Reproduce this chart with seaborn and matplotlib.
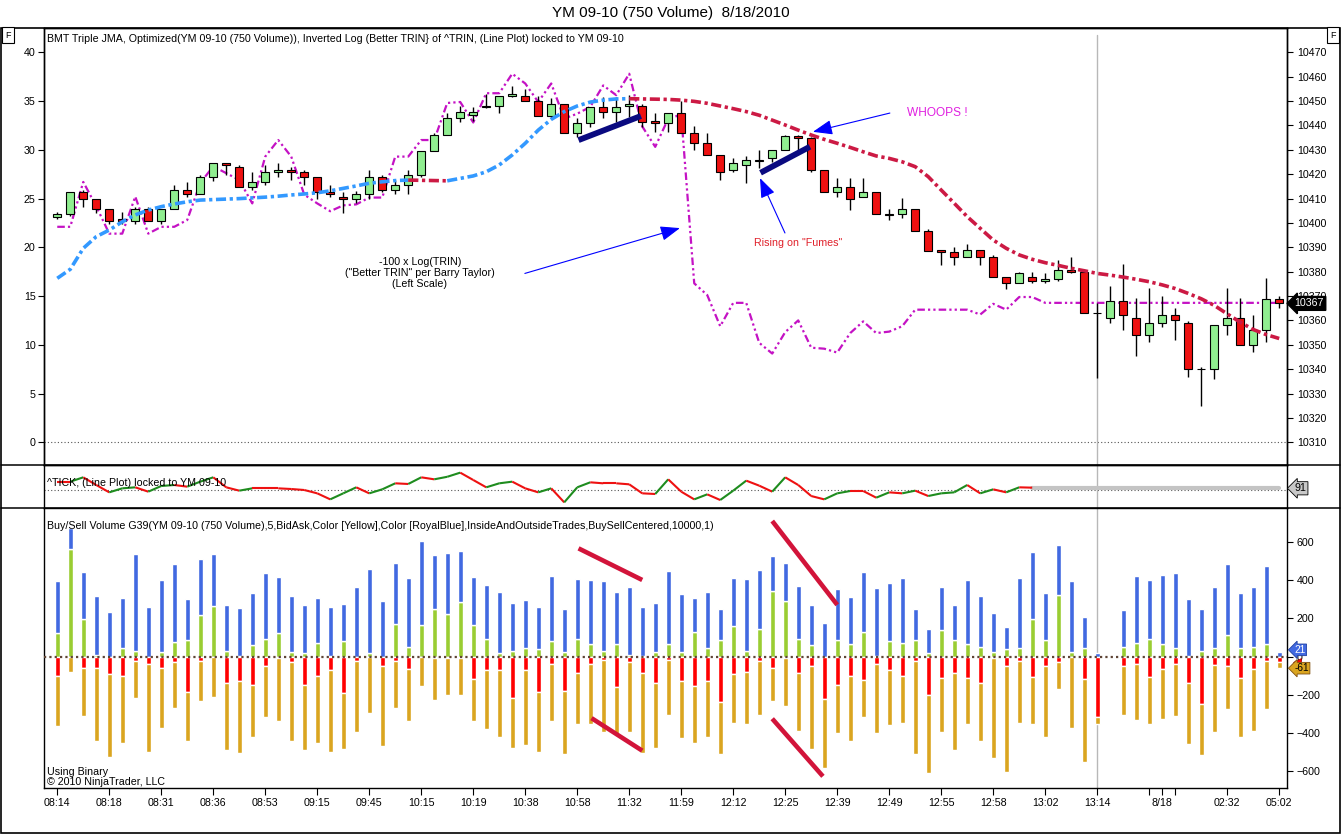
import numpy as np
import matplotlib
matplotlib.use("Agg")
import matplotlib.pyplot as plt
import seaborn as sns
from matplotlib.collections import LineCollection
from matplotlib.lines import Line2D
from matplotlib.patches import Rectangle
from matplotlib.transforms import blended_transform_factory

# ------------------------------------------------------------------ data
XTICK_POS = [0, 4, 8, 12, 16, 20, 24, 28, 32, 36, 40, 44, 48, 52, 56, 60, 64, 68, 72, 76, 80, 84, 85, 86, 90, 94]
XTICK_LABELS = ['08:14', '08:18', '08:31', '08:36', '08:53', '09:15', '09:45', '10:15', '10:19', '10:38',
                '10:58', '11:32', '11:59', '12:12', '12:25', '12:39', '12:49', '12:55', '12:58', '13:02',
                '13:14', '', '8/18', '', '02:32', '05:02']

OPEN = [10402.3, 10403.5, 10412.6, 10409.7, 10405.6, 10401.5, 10400.7, 10405.6, 10400.7, 10405.6,
        10413.4, 10411.7, 10418.7, 10424.5, 10422.8, 10414.6, 10416.7, 10420.8, 10421.6, 10420.8,
        10418.7, 10412.6, 10410.5, 10409.7, 10411.7, 10418.7, 10413.4, 10415.4, 10419.5, 10429.6,
        10436.1, 10442.9, 10444.5, 10447.7, 10448.0, 10452.2, 10452.1, 10450.0, 10443.9, 10448.7,
        10436.8, 10440.9, 10447.7, 10445.7, 10447.9, 10448.0, 10442.0, 10440.9, 10445.0, 10436.8,
        10432.7, 10427.9, 10421.7, 10423.8, 10425.4, 10426.5, 10429.9, 10435.7, 10434.7, 10421.7,
        10412.6, 10414.6, 10410.8, 10412.6, 10403.6, 10403.5, 10405.6, 10396.6, 10389.0, 10388.2,
        10386.2, 10389.0, 10386.2, 10378.0, 10375.2, 10378.0, 10376.0, 10377.2, 10380.9, 10380.0,
        10363.0, 10360.9, 10368.1, 10360.9, 10353.9, 10358.8, 10362.1, 10358.8, 10340.0, 10339.9,
        10358.0, 10360.9, 10349.9, 10356.0, 10369.0]
HIGH = [10404.4, 10412.8, 10413.5, 10409.9, 10405.6, 10404.5, 10406.4, 10406.4, 10405.6, 10415.4,
        10416.9, 10419.5, 10424.5, 10424.5, 10423.6, 10420.8, 10423.6, 10424.5, 10422.8, 10421.6,
        10418.7, 10415.4, 10412.6, 10413.0, 10421.6, 10419.5, 10417.5, 10421.6, 10429.6, 10436.9,
        10445.0, 10448.0, 10447.5, 10453.0, 10452.1, 10456.2, 10454.8, 10452.1, 10451.1, 10448.7,
        10442.9, 10447.7, 10451.8, 10451.8, 10452.5, 10449.0, 10445.0, 10445.0, 10450.2, 10439.8,
        10436.8, 10427.9, 10426.8, 10427.5, 10429.9, 10429.9, 10436.1, 10436.1, 10435.4, 10421.7,
        10418.3, 10418.3, 10418.3, 10412.6, 10405.8, 10410.4, 10405.6, 10397.4, 10389.0, 10390.3,
        10391.2, 10389.0, 10386.9, 10378.0, 10380.0, 10380.0, 10379.3, 10385.0, 10386.2, 10380.7,
        10367.1, 10374.0, 10383.1, 10369.2, 10373.3, 10369.9, 10365.1, 10359.9, 10340.9, 10358.0,
        10373.3, 10369.2, 10362.1, 10377.3, 10369.9]
LOW = [10401.5, 10403.0, 10406.4, 10404.2, 10399.6, 10399.6, 10399.6, 10400.7, 10399.6, 10405.6,
       10410.5, 10411.7, 10417.4, 10419.5, 10414.6, 10413.4, 10415.4, 10418.7, 10417.5, 10415.4,
       10409.7, 10410.5, 10404.2, 10408.0, 10409.7, 10412.6, 10411.7, 10411.7, 10418.7, 10429.6,
       10436.0, 10441.6, 10442.0, 10447.0, 10445.0, 10451.8, 10450.0, 10443.9, 10442.9, 10436.8,
       10435.4, 10439.5, 10442.9, 10441.6, 10443.6, 10439.5, 10437.5, 10437.5, 10436.8, 10429.9,
       10427.9, 10417.6, 10421.0, 10416.6, 10422.4, 10425.0, 10429.9, 10429.9, 10421.0, 10412.6,
       10410.8, 10405.3, 10410.8, 10403.5, 10401.3, 10402.2, 10396.6, 10388.4, 10382.8, 10382.8,
       10386.2, 10382.8, 10378.0, 10373.0, 10375.2, 10375.2, 10375.2, 10376.0, 10379.3, 10362.9,
       10336.5, 10358.8, 10356.1, 10345.6, 10351.0, 10357.2, 10351.9, 10336.8, 10325.0, 10335.8,
       10353.9, 10349.9, 10346.9, 10351.0, 10365.1]
CLOSE = [10403.5, 10412.6, 10409.7, 10405.6, 10400.7, 10400.7, 10405.6, 10400.7, 10405.6, 10413.4,
         10411.7, 10418.7, 10424.5, 10423.6, 10414.6, 10416.7, 10420.8, 10421.6, 10420.8, 10418.7,
         10412.6, 10411.7, 10409.7, 10411.7, 10418.7, 10413.4, 10415.4, 10419.5, 10429.6, 10436.1,
         10442.9, 10445.7, 10445.5, 10448.0, 10452.1, 10452.8, 10450.0, 10443.9, 10448.7, 10436.8,
         10440.9, 10447.7, 10445.7, 10447.7, 10448.8, 10441.6, 10441.1, 10445.0, 10436.8, 10432.7,
         10427.9, 10420.8, 10424.5, 10425.9, 10426.0, 10429.9, 10435.7, 10434.7, 10421.7, 10412.6,
         10414.6, 10409.7, 10412.6, 10403.5, 10403.4, 10405.6, 10396.6, 10388.4, 10388.2, 10386.2,
         10389.0, 10386.2, 10378.0, 10375.2, 10379.3, 10376.0, 10377.2, 10380.9, 10380.0, 10362.9,
         10362.9, 10368.1, 10362.1, 10353.9, 10358.8, 10362.1, 10360.1, 10339.9, 10339.9, 10358.0,
         10360.9, 10349.9, 10356.0, 10369.0, 10367.0]

# BMT Triple JMA (right / price scale)
JMA = [10377.3, 10381.0, 10389.6, 10394.4, 10397.1, 10400.5, 10403.3, 10405.3, 10406.7, 10407.8,
       10408.7, 10409.4, 10409.6, 10409.8, 10410.0, 10410.3, 10410.6, 10411.0, 10411.5, 10411.9,
       10412.4, 10413.2, 10414.2, 10415.2, 10416.3, 10416.9, 10417.4, 10417.6, 10417.5, 10417.4,
       10417.3, 10418.3, 10419.3, 10421.0, 10423.8, 10427.9, 10432.7, 10438.1, 10442.5, 10445.7,
       10448.0, 10449.6, 10450.4, 10450.9, 10451.0, 10450.9, 10450.8, 10450.7, 10450.4, 10449.9,
       10449.1, 10448.0, 10446.9, 10445.7, 10444.2, 10442.2, 10440.2, 10438.1, 10436.1, 10434.3,
       10432.7, 10431.0, 10429.2, 10427.5, 10426.5, 10425.1, 10423.1, 10419.0, 10413.5, 10408.1,
       10402.6, 10397.8, 10393.0, 10389.6, 10386.9, 10385.1, 10383.7, 10382.6, 10381.4, 10380.4,
       10379.3, 10378.6, 10377.8, 10376.9, 10375.9, 10374.6, 10373.1, 10371.1, 10368.9, 10366.2,
       10362.7, 10359.3, 10356.3, 10354.2, 10352.6]

# -100 x Log(TRIN) (left scale)
TRIN = [22.1, 22.1, 26.7, 24.2, 21.4, 21.4, 25.2, 21.4, 22.1, 22.1,
        22.8, 26.6, 28.3, 27.6, 26.9, 24.5, 29.3, 31.0, 29.3, 25.4,
        24.5, 23.7, 24.3, 24.4, 25.1, 25.1, 29.3, 29.3, 31.0, 31.0,
        34.8, 34.9, 32.8, 35.8, 35.8, 37.8, 36.8, 34.9, 36.8, 33.2,
        33.7, 34.4, 36.6, 35.6, 37.8, 32.4, 30.3, 33.2, 33.6, 16.3,
        15.1, 11.9, 14.3, 14.3, 10.2, 9.1, 11.3, 12.5, 9.7, 9.6,
        9.2, 11.2, 12.4, 11.2, 11.35, 11.9, 13.6, 13.6, 13.6, 13.6,
        13.6, 13.1, 14.2, 13.6, 14.9, 14.9, 14.3, 14.3, 14.3, 14.3,
        14.3, 14.3, 14.3, 14.3, 14.3, 14.3, 14.3, 14.3, 14.3, 14.3,
        14.3, 14.3, 14.3, 14.3, 14.3]

# ^TICK
TICK = [442, 442, 672, 265, -124, 88, 142, -88, 212, 265,
        177, 442, 672, 142, -35, 88, 88, 88, 53, 0,
        -177, -496, -177, 142, -177, 35, 354, 319, 672, 566,
        700, 920, 531, 142, 354, 442, 88, -124, 88, -655,
        142, 407, 354, 354, 301, -177, -212, 566, -88, -496,
        -230, -531, -35, 496, 230, -88, 672, 265, -319, -496,
        -177, -53, -53, -407, -124, -177, -35, -319, -177, -124,
        265, -177, 35, -124, 142, 124]
TICK_LAST = 91

# Buy / Sell volume
BUY = [393, 670, 441, 315, 231, 304, 535, 257, 399, 483,
       299, 509, 535, 268, 252, 331, 435, 415, 315, 268,
       304, 257, 273, 362, 456, 289, 488, 409, 603, 530,
       540, 551, 415, 373, 336, 278, 294, 257, 420, 247,
       404, 399, 393, 336, 362, 257, 278, 446, 325, 304,
       336, 247, 409, 404, 451, 525, 488, 367, 268, 173,
       352, 310, 441, 357, 383, 409, 247, 142, 362, 268,
       399, 315, 226, 152, 409, 546, 331, 582, 393, 205,
       16, 0, 241, 420, 399, 425, 435, 299, 247, 362,
       483, 331, 362, 472, 21]
BUY_INSIDE = [122, 561, 194, 10, 0, 42, 28, 0, 21, 75,
              87, 215, 262, 31, 5, 58, 89, 122, 21, 16,
              70, 5, 80, 0, 16, 0, 168, 52, 163, 247,
              220, 283, 163, 94, 16, 31, 47, 37, 79, 21,
              89, 63, 31, 68, 10, 5, 21, 68, 26, 126,
              47, 84, 157, 31, 142, 341, 289, 94, 58, 0,
              84, 68, 126, 5, 79, 73, 84, 16, 136, 84,
              68, 52, 26, 37, 42, 194, 84, 320, 21, 42,
              0, 0, 52, 73, 89, 63, 47, 5, 31, 42,
              110, 42, 52, 68, 0]
SELL_INSIDE = [100, 0, 58, 58, 91, 100, 21, 37, 58, 30,
               184, 21, 0, 136, 126, 147, 47, 10, 31, 147,
               100, 73, 189, 21, 5, 52, 21, 63, 0, 10,
               10, 10, 115, 68, 73, 215, 73, 184, 37, 178,
               84, 37, 16, 157, 31, 84, 136, 16, 126, 152,
               126, 236, 89, 79, 21, 58, 10, 84, 52, 220,
               147, 100, 121, 37, 68, 100, 21, 199, 110, 84,
               110, 136, 10, 47, 21, 105, 52, 31, 5, 115,
               315, 0, 52, 37, 105, 63, 37, 136, 247, 42,
               52, 110, 63, 21, 31]
SELL = [362, 82, 313, 439, 523, 450, 219, 498, 376, 271,
        444, 234, 213, 486, 502, 423, 318, 339, 439, 486,
        450, 498, 481, 392, 297, 465, 271, 339, 156, 229,
        203, 203, 339, 381, 418, 476, 460, 497, 339, 507,
        350, 355, 397, 407, 392, 502, 476, 308, 428, 450,
        418, 507, 345, 350, 303, 234, 261, 387, 481, 581,
        402, 444, 318, 402, 360, 345, 507, 607, 392, 486,
        355, 439, 528, 602, 345, 355, 423, 171, 371, 549,
        355, 0, 303, 334, 355, 329, 313, 455, 512, 392,
        276, 423, 387, 276, 58]

LAST_PRICE = 10367
LAST_BUY, LAST_SELL, LAST_SELL_INSIDE = 21, -61, -31
SESSION_LINE = 80

# hand-drawn annotations (bar index, value)
NAVY_STROKES = [((40.1, 10434.0), (44.9, 10443.9)), ((54.1, 10420.6), (57.9, 10431.3))]
CRIMSON_STROKES = [((40.1, 565), (45.0, 400)), ((41.1, -322), (45.0, -492)),
                   ((55.0, 708), (60.0, 270)), ((55.0, -325), (58.9, -626))]

# ------------------------------------------------------------------ style
sns.set_theme(style="white")
plt.rcParams['font.family'] = ['Liberation Sans', 'DejaVu Sans']
plt.rcParams.update({'axes.edgecolor': 'black', 'xtick.color': 'black', 'ytick.color': 'black',
                     'text.color': 'black', 'axes.linewidth': 1.0})
FS = 7.7

W, H = 1341, 834
fig = plt.figure(figsize=(W / 100, H / 100), dpi=100)
fig.patch.set_facecolor('white')


def rect(x0, y0, x1, y1):
    return [x0 / W, 1 - y1 / H, (x1 - x0) / W, (y1 - y0) / H]


ax_p = fig.add_axes(rect(44, 28, 1287, 465))
ax_t = fig.add_axes(rect(44, 465, 1287, 508), sharex=ax_p)
ax_v = fig.add_axes(rect(44, 508, 1287, 788), sharex=ax_p)
ax_r = ax_p.twinx()

N = len(CLOSE)
idx = np.arange(N)
ax_p.set_xlim(-1.02, 94.6)
ax_p.set_ylim(-2.33, 42.49)
ax_r.set_ylim(10300.7, 10480.0)
ax_t.set_ylim(-954, 1325)
ax_v.set_ylim(-687, 776)

# ---- price panel
ax_p.axhline(0, color='#555555', lw=0.8, ls=(0, (1, 2)), zorder=1)
ax_p.axvline(SESSION_LINE, ymax=0.984, color='#b8b8b8', lw=1, zorder=1)
sns.lineplot(x=idx, y=TRIN, ax=ax_p, color='#C412C4', lw=1.6, sort=False, errorbar=None,
             linestyle=(0, (3.4, 1.4, 1, 1.4, 1, 1.4)), zorder=2)

O, Hh, Lw, C = map(np.array, (OPEN, HIGH, LOW, CLOSE))
up = C >= O
ax_r.vlines(idx, Lw, Hh, color='black', lw=1, zorder=3)
ax_r.bar(idx, np.abs(C - O), bottom=np.minimum(O, C), width=0.6,
         color=np.where(up, '#90EE90', '#EE1111'), edgecolor='black', linewidth=0.8, zorder=4)

jma = np.array(JMA)
d = np.diff(jma)
start = 0
for k in range(1, len(d) + 1):
    if k == len(d) or (d[k] > 0) != (d[start] > 0):
        col = '#3399FF' if d[start] > 0 else '#CC1A44'
        sns.lineplot(x=idx[start:k + 1], y=jma[start:k + 1], ax=ax_r, color=col, lw=2.6,
                     sort=False, errorbar=None, linestyle=(0, (2.8, 1.0, 0.9, 1.0)), zorder=5)
        start = k

for (x0, y0), (x1, y1) in NAVY_STROKES:
    ax_r.plot([x0, x1], [y0, y1], color='#0A0A80', lw=4.2, solid_capstyle='butt', zorder=6)

arrow_kw = dict(arrowstyle='-|>,head_length=1.0,head_width=0.38', color='#0000FF', lw=0.8,
                shrinkA=0, shrinkB=0)
ax_r.annotate('', xy=(47.9, 10397.9), xytext=(35.97, 10379.3), arrowprops=arrow_kw, zorder=7)
ax_r.annotate('', xy=(54.06, 10418.4), xytext=(55.98, 10395.9), arrowprops=arrow_kw, zorder=7)
ax_r.annotate('', xy=(58.13, 10437.4), xytext=(64.05, 10445.1), arrowprops=arrow_kw, zorder=7)
ax_r.text(27.9, 10379.4, '-100 x Log(TRIN)\n("Better TRIN" per Barry Taylor)\n(Left Scale)',
          ha='center', va='center', fontsize=FS, linespacing=1.15, zorder=7)
ax_r.text(56.98, 10391.8, 'Rising on "Fumes"', ha='center', va='center', fontsize=FS,
          color='#E0202A', zorder=7)
ax_r.text(65.36, 10445.1, 'WHOOPS !', ha='left', va='center', fontsize=8.6, color='#E020E0', zorder=7)

ax_p.set_yticks(np.arange(0, 41, 5))
ax_r.set_yticks(np.arange(10310, 10471, 10))
ax_p.tick_params(axis='y', left=True, direction='out', length=4, width=0.8, pad=2, labelsize=FS)
ax_r.tick_params(axis='y', right=True, direction='out', length=4, width=0.8, pad=3, labelsize=FS)
trR = blended_transform_factory(ax_r.transAxes, ax_r.transData)
ax_r.text(1.006, LAST_PRICE, f'{LAST_PRICE}', transform=trR, ha='left', va='center', color='white',
          fontsize=FS, bbox=dict(boxstyle='larrow,pad=0.18', fc='black', ec='black'), clip_on=False, zorder=9)

# ---- TICK panel
tick = np.array(TICK, dtype=float)
tx = np.arange(len(tick))
pts = np.column_stack([tx, tick])
segs = np.stack([pts[:-1], pts[1:]], axis=1)
cols = ['#1E8C1E' if b > a else '#EE1111' for a, b in zip(tick[:-1], tick[1:])]
ax_t.add_collection(LineCollection(segs, colors=cols, linewidths=1.5, zorder=3))
ax_t.plot([tx[-1], N - 1], [TICK_LAST, TICK_LAST], color='#c4c4c4', lw=3, zorder=2)
ax_t.axhline(0, color='#555555', lw=0.8, ls=(0, (1, 2)), zorder=1)
ax_t.axvline(SESSION_LINE, color='#b8b8b8', lw=1, zorder=1)
ax_t.set_yticks([])
trT = blended_transform_factory(ax_t.transAxes, ax_t.transData)
ax_t.text(1.006, TICK_LAST, f'{TICK_LAST}', transform=trT, ha='left', va='center', fontsize=FS,
          bbox=dict(boxstyle='larrow,pad=0.15', fc='#c8c8c8', ec='black', lw=0.6), clip_on=False, zorder=9)

# ---- volume panel
buy = np.array(BUY); bin_ = np.array(BUY_INSIDE); sin_ = np.array(SELL_INSIDE); sell = np.array(SELL)
bw = 0.38
ax_v.bar(idx, bin_, width=bw, color='#9ACD32', zorder=3)
ax_v.bar(idx, buy - bin_, bottom=bin_, width=bw, color='#4169E1', zorder=3)
ax_v.bar(idx, -sin_, width=bw, color='#FF0000', zorder=3)
ax_v.bar(idx, -(sell - sin_), bottom=-sin_, width=bw, color='#DAA520', zorder=3)
ax_v.axhline(0, color='#5e4435', lw=1.6, ls=(0, (1.0, 1.4)), zorder=4)
ax_v.axvline(SESSION_LINE, color='#b8b8b8', lw=1, zorder=1)
for (x0, y0), (x1, y1) in CRIMSON_STROKES:
    ax_v.plot([x0, x1], [y0, y1], color='#D2143A', lw=3.3, solid_capstyle='butt', zorder=6)
ax_v.yaxis.tick_right()
ax_v.set_yticks(np.arange(-600, 601, 200))
ax_v.tick_params(axis='y', right=True, left=False, direction='out', length=4, width=0.8, pad=3, labelsize=FS)
trV = blended_transform_factory(ax_v.transAxes, ax_v.transData)
ax_v.plot([1.008], [LAST_SELL_INSIDE], transform=trV, marker='<', ms=6, color='#FF0000',
          mec='#900000', mew=0.5, clip_on=False, zorder=8)
ax_v.text(1.006, LAST_BUY + 14, f'{LAST_BUY}', transform=trV, ha='left', va='center', color='white',
          fontsize=7.3, bbox=dict(boxstyle='larrow,pad=0.08', fc='#4169E1', ec='#2040a0', lw=0.6),
          clip_on=False, zorder=9)
ax_v.text(1.006, LAST_SELL, f'{LAST_SELL}', transform=trV, ha='left', va='center', color='black',
          fontsize=7.3, bbox=dict(boxstyle='larrow,pad=0.08', fc='#DAA520', ec='#805010', lw=0.6),
          clip_on=False, zorder=9)

ax_v.set_xticks(XTICK_POS)
ax_v.set_xticklabels(XTICK_LABELS)
ax_v.tick_params(axis='x', bottom=True, direction='out', length=5, width=0.8, pad=2, labelsize=FS)
for a in (ax_p, ax_t):
    a.tick_params(axis='x', bottom=False, labelbottom=False)
ax_p.set_xlabel(''); ax_r.set_ylabel(''); ax_p.set_ylabel('')

for a in (ax_p, ax_t, ax_v, ax_r):
    for s in a.spines.values():
        s.set_color('black'); s.set_linewidth(1.0)
ax_p.set_facecolor('white')

# ---- frame, separators and captions
fig.add_artist(Rectangle((1 / W, 1 - 833 / H), 1339 / W, (833 - 28) / H, transform=fig.transFigure,
                         fill=False, ec='black', lw=1.2))
for yy in (465, 508):
    fig.add_artist(Line2D([1 / W, 1340 / W], [1 - yy / H] * 2, color='black', lw=1.1, transform=fig.transFigure))

fig.text(670.5 / W, 1 - 13 / H, 'YM 09-10 (750 Volume)  8/18/2010', ha='center', va='center', fontsize=11)
fig.text(47 / W, 1 - 39 / H, 'BMT Triple JMA, Optimized(YM 09-10 (750 Volume)), Inverted Log (Better TRIN} '
         'of ^TRIN, (Line Plot) locked to YM 09-10', ha='left', va='center', fontsize=FS)
fig.text(47 / W, 1 - 483 / H, '^TICK, (Line Plot) locked to YM 09-10', ha='left', va='center', fontsize=FS)
fig.text(47 / W, 1 - 526 / H, 'Buy/Sell Volume G39(YM 09-10 (750 Volume),5,BidAsk,Color [Yellow],'
         'Color [RoyalBlue],InsideAndOutsideTrades,BuySellCentered,10000,1)', ha='left', va='center', fontsize=FS)
fig.text(47 / W, 1 - 772 / H, 'Using Binary', ha='left', va='center', fontsize=FS)
fig.text(47 / W, 1 - 782 / H, '© 2010 NinjaTrader, LLC', ha='left', va='center', fontsize=FS)
for fx in (8, 1333):
    fig.text(fx / W, 1 - 35 / H, 'F', ha='center', va='center', fontsize=6.5,
             bbox=dict(boxstyle='square,pad=0.35', fc='white', ec='black', lw=0.8))

fig.savefig('out.png', dpi=100, facecolor='white')
